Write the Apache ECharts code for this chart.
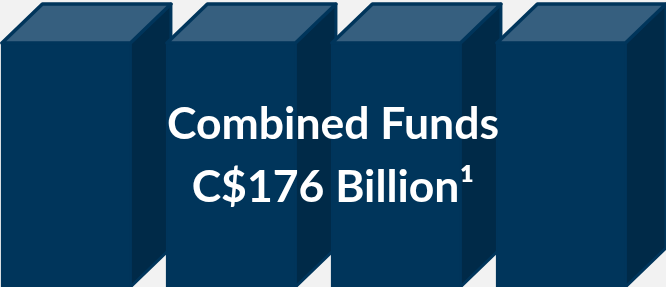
<!DOCTYPE html>
<html>
<head>
<meta charset="utf-8">
<script src="https://cdn.jsdelivr.net/npm/echarts@6/dist/echarts.min.js"></script>
<style>
html,body{margin:0;padding:0;background:#f2f2f2;}
#chart{width:666px;height:287px;}
</style>
</head>
<body>
<div id="chart"></div>
<script>
var categories = ['Fund 1', 'Fund 2', 'Fund 3', 'Fund 4'];
var values = [1, 1, 1, 1];
var titleLines = ['Combined Funds', 'C$176 Billion\u00b9'];

var FRONT = '#00355b', TOP = '#365f7f', SIDE = '#002a48';
var chart = echarts.init(document.getElementById('chart'), null, {renderer: 'canvas'});

function renderItem(params, api) {
  var i = api.value(0);
  var v = api.value(1);
  var band = api.size([1, 0])[0];
  var c = api.coord([i, v]);
  var b = api.coord([i, 0]);
  var x0 = c[0] - band / 2;
  var w = band * 0.779;
  var dx = 40.5, dy = 39;
  var yt = c[1], yb = b[1];
  var x1 = x0 + w;
  return {
    type: 'group',
    children: [
      {type: 'polygon', shape: {points: [[x1, yt], [x1 + dx, yt - dy], [x1 + dx, yb - dy], [x1, yb]]},
       style: {fill: SIDE, stroke: FRONT, lineWidth: 3, lineJoin: 'round'}},
      {type: 'rect', shape: {x: x0, y: yt, width: w, height: yb - yt + 2},
       style: {fill: FRONT, stroke: FRONT, lineWidth: 2}},
      {type: 'polygon', shape: {points: [[x0, yt], [x1, yt], [x1 + dx, yt - dy], [x0 + dx, yt - dy]]},
       style: {fill: TOP, stroke: FRONT, lineWidth: 3.5, lineJoin: 'round'}}
    ]
  };
}

chart.setOption({
  backgroundColor: '#f2f2f2',
  animation: false,
  title: {
    text: titleLines.join('\n'),
    left: 'center',
    top: 93,
    padding: 0,
    textStyle: {color: '#ffffff', fontFamily: 'Lato', fontWeight: 'bold', fontSize: 44.5, lineHeight: 63}
  },
  grid: {left: 1.9, right: 4.1, top: 43, bottom: 0},
  xAxis: {type: 'category', data: categories, show: false, boundaryGap: true},
  yAxis: {type: 'value', min: 0, max: 1, show: false},
  series: [{
    type: 'custom',
    renderItem: renderItem,
    data: values.map(function (v, i) { return [i, v]; }),
    z: 1
  }]
});
</script>
</body>
</html>
